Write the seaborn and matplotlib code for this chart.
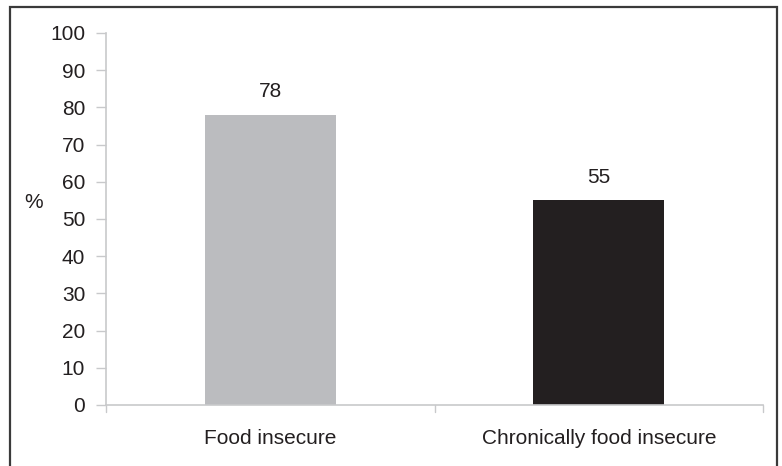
import matplotlib
matplotlib.use("Agg")
import matplotlib.pyplot as plt
import matplotlib.patches as mpatches
import seaborn as sns
import pandas as pd

categories = ["Food insecure", "Chronically food insecure"]
values = [78, 55]
bar_colors = ["#bbbcbf", "#231f20"]
y_ticks = [0, 10, 20, 30, 40, 50, 60, 70, 80, 90, 100]

sns.set_theme(style="white")
plt.rcParams["font.family"] = ["Liberation Sans", "DejaVu Sans"]

W, H = 782, 466
FS = 15
fig = plt.figure(figsize=(W / 100, H / 100), dpi=100)
ax = fig.add_axes([106 / W, 1 - 405 / H, (763 - 106) / W, (405 - 33) / H])

df = pd.DataFrame({"category": categories, "value": values})
sns.barplot(data=df, x="category", y="value", hue="category",
            palette=bar_colors, width=0.4, legend=False, ax=ax,
            saturation=1, edgecolor="none")

text_color = "#231f20"
axis_color = "#c8c9cb"

ax.set_ylim(0, 100)
ax.set_xlim(-0.5, 1.5)
ax.set_yticks(y_ticks)
ax.set_yticklabels([str(t) for t in y_ticks], fontsize=FS, color=text_color)
ax.set_xticks([0, 1])
ax.set_xticklabels(categories, fontsize=FS, color=text_color)
ax.tick_params(axis="x", length=0, pad=17)
ax.tick_params(axis="y", length=7, width=1, color=axis_color, pad=8,
               direction="out", left=True)

# category separator ticks below the x axis
for xb in [-0.5, 0.5, 1.5]:
    ax.plot([xb, xb], [0, -0.018], transform=ax.get_xaxis_transform(),
            color=axis_color, lw=1, clip_on=False)

for side in ["top", "right"]:
    ax.spines[side].set_visible(False)
for side in ["left", "bottom"]:
    ax.spines[side].set_color(axis_color)
    ax.spines[side].set_linewidth(1.2)

ax.set_xlabel("")
ax.set_ylabel("")
fig.text(34 / W, 1 - 202 / H, "%", fontsize=FS, color=text_color,
         ha="center", va="center")

for i, v in enumerate(values):
    ax.annotate(str(v), (i, v), xytext=(0, 10), textcoords="offset points",
                ha="center", va="bottom", fontsize=FS, color=text_color)

# frame around the whole figure (open at the bottom edge)
frame = mpatches.Rectangle((9.5 / W, -0.05), (777 - 9.5) / W, 1 - 6.5 / H + 0.05,
                           transform=fig.transFigure, fill=False,
                           edgecolor="#3a3a3a", lw=1.6)
fig.patches.append(frame)

fig.savefig("out.png", dpi=100)
